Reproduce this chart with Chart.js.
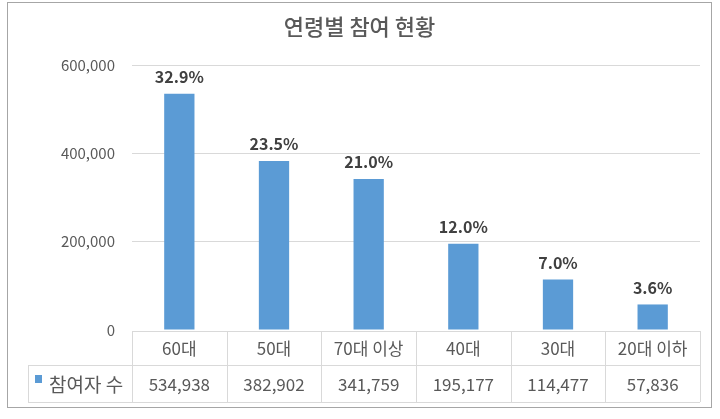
<!DOCTYPE html>
<html>
<head>
<meta charset="utf-8">
<script src="https://cdn.jsdelivr.net/npm/chart.js@4"></script>
<style>
  body { margin: 0; background: #fff; }
  #box { position: absolute; left: 7px; top: 2px; width: 703px; height: 404px; border: 1px solid #a6a6a6; }
</style>
</head>
<body>
<div id="box"><canvas id="chart"></canvas></div>
<script>
// data
const titleText = "연령별 참여 현황";
const seriesName = "참여자 수";
const ageGroups = ["60대", "50대", "70대 이상", "40대", "30대", "20대 이하"];
const participants = [534938, 382902, 341759, 195177, 114477, 57836];
const shares = ["32.9%", "23.5%", "21.0%", "12.0%", "7.0%", "3.6%"];
const yTicks = [0, 200000, 400000, 600000];

const FONT = "'Noto Sans CJK KR', 'Noto Sans', sans-serif";
const barColor = '#5b9bd5';
const lineColor = '#d9d9d9';

// title, % labels and data table
const extras = {
    id: 'extras',
    afterDraw(chart) {
        const ctx = chart.ctx;
        const area = chart.chartArea;
        const x = chart.scales.x;
        const colW = (area.right - area.left) / ageGroups.length;
        ctx.save();

        // title
        ctx.fillStyle = '#595959';
        ctx.font = "500 22px " + FONT;
        ctx.textAlign = 'center';
        ctx.textBaseline = 'middle';
        ctx.fillText(titleText, chart.width / 2, 24);

        // percentages over bars
        const meta = chart.getDatasetMeta(0);
        ctx.fillStyle = '#404040';
        ctx.font = "bold 16px " + FONT;
        meta.data.forEach((bar, i) => {
            ctx.fillText(shares[i], bar.x, bar.y - 17);
        });

        // table
        const top = area.bottom + 1;
        const mid = top + 34;
        const bot = top + 71;
        const legLeft = 20;
        ctx.strokeStyle = lineColor;
        ctx.lineWidth = 1;
        ctx.beginPath();
        ctx.moveTo(area.left, top + 0.5); ctx.lineTo(area.right, top + 0.5);
        ctx.moveTo(legLeft, mid + 0.5); ctx.lineTo(area.right, mid + 0.5);
        ctx.moveTo(legLeft, bot + 0.5); ctx.lineTo(area.right, bot + 0.5);
        ctx.moveTo(legLeft + 0.5, mid); ctx.lineTo(legLeft + 0.5, bot);
        for (let i = 0; i <= ageGroups.length; i++) {
            const cx = Math.round(area.left + i * colW) + 0.5;
            ctx.moveTo(cx, top); ctx.lineTo(cx, bot);
        }
        ctx.stroke();

        ctx.fillStyle = '#595959';
        ctx.font = "17px " + FONT;
        ctx.textAlign = 'center';
        ageGroups.forEach((g, i) => {
            const cx = x.getPixelForValue(i);
            ctx.fillText(g, cx, (top + mid) / 2 + 1);
            ctx.fillText(participants[i].toLocaleString('en-US'), cx, (mid + bot) / 2 + 1);
        });

        // legend key
        ctx.fillStyle = barColor;
        ctx.fillRect(27, 372, 7, 8);
        ctx.fillStyle = '#595959';
        ctx.textAlign = 'left';
        ctx.font = "19px " + FONT;
        ctx.fillText(seriesName, 41, (mid + bot) / 2 + 1);
        ctx.restore();
    }
};

new Chart(document.getElementById('chart'), {
    type: 'bar',
    data: {
        labels: ageGroups,
        datasets: [{
            label: seriesName,
            data: participants,
            backgroundColor: barColor,
            categoryPercentage: 1,
            barPercentage: 0.32
        }]
    },
    options: {
        responsive: true,
        maintainAspectRatio: false,
        animation: false,
        layout: { padding: { top: 62, left: 6, right: 11, bottom: 77 } },
        scales: {
            x: { display: false },
            y: {
                min: 0,
                max: 600000,
                afterBuildTicks: (s) => { s.ticks = yTicks.map(v => ({ value: v })); },
                afterFit: (s) => { s.width = 118; },
                border: { display: false },
                grid: {
                    color: (c) => c.tick && c.tick.value === 0 ? 'rgba(0,0,0,0)' : lineColor,
                    drawTicks: false
                },
                ticks: {
                    padding: 17,
                    color: '#595959',
                    font: { family: FONT, size: 15 },
                    callback: (v) => v.toLocaleString('en-US')
                }
            }
        },
        plugins: {
            legend: { display: false },
            tooltip: { enabled: false }
        }
    },
    plugins: [extras]
});
</script>
</body>
</html>
